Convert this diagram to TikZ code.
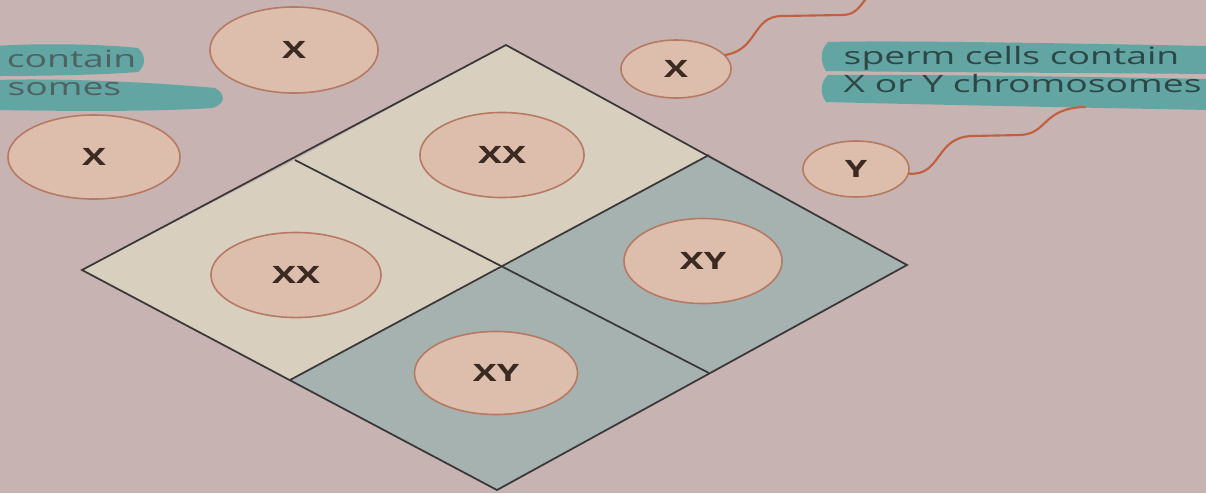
\documentclass[tikz,border=0pt]{standalone}
\usepackage{fontspec}
\usepackage{graphicx}
\setmainfont{Open Sans}
\usetikzlibrary{shapes.geometric}
\definecolor{bg}{HTML}{C7B3B1}
\definecolor{cream}{HTML}{D8CFBF}
\definecolor{bluegrey}{HTML}{A6B2B0}
\definecolor{circfill}{HTML}{DDBEAC}
\definecolor{circedge}{HTML}{B47A63}
\definecolor{labtext}{HTML}{3A2A22}
\definecolor{strip}{HTML}{63A5A2}
\definecolor{striptext}{HTML}{2C4746}
\definecolor{wire}{HTML}{C0603F}
\definecolor{gridline}{HTML}{3A3838}
\tikzset{
  cellcirc/.style={ellipse, draw=circedge, fill=circfill, line width=0.45pt,
    inner sep=0pt, text=labtext, font=\bfseries\fontsize{6.8}{7}\selectfont},
  striplabel/.style={inner sep=0pt, text=striptext, font=\fontsize{6.8}{7}\selectfont},
  gridstroke/.style={draw=gridline, line width=0.5pt, line join=miter},
  wirestroke/.style={draw=wire, line width=0.6pt, line cap=round},
}
\newcommand{\wx}[1]{\scalebox{1.5}[1]{#1}}
\newcommand{\ws}[1]{\scalebox{1.56}[1]{#1}}
\begin{document}
\begin{tikzpicture}[x=0.01cm,y=-0.01cm]
\useasboundingbox (0,0) rectangle (1206,493);
\fill[bg] (0,0) rectangle (1206,493);
\clip (0,0) rectangle (1206,493);

% highlighter strips
\fill[strip] (-5,46) .. controls (40,43) and (100,44) .. (138,48)
  .. controls (146,55) and (146,66) .. (138,72) .. controls (100,75) and (40,76) .. (-5,76) -- cycle;
\fill[strip] (-5,80) .. controls (60,78) and (150,82) .. (215,88)
  .. controls (226,94) and (226,104) .. (212,108) .. controls (150,112) and (60,111) .. (-5,110) -- cycle;
\fill[strip] (828,42) .. controls (900,40) and (1100,44) .. (1210,46)
  -- (1210,74) .. controls (1100,73) and (900,72) .. (826,71) .. controls (820,62) and (820,50) .. (828,42) -- cycle;
\fill[strip] (828,75) .. controls (900,74) and (1100,77) .. (1210,79)
  -- (1210,110) .. controls (1100,108) and (900,104) .. (826,102) .. controls (820,94) and (820,82) .. (828,75) -- cycle;

% strip texts
\node[striplabel, anchor=base west] (s1) at (843,64) {\ws{sperm cells contain}};
\node[striplabel, anchor=base west] (s2) at (843,92) {\ws{X or Y chromosomes}};
\node[striplabel, anchor=base east, text=striptext!85!white] (e1) at (137,67) {\ws{contain}};
\node[striplabel, anchor=base east, text=striptext!85!white] (e2) at (122,95) {\ws{somes}};

% Punnett diamond
\coordinate (T) at (506,45);
\coordinate (R) at (907,265);
\coordinate (B) at (497,490);
\coordinate (L) at (82,270);
\coordinate (C) at (503,267);
\coordinate (TL) at (295,160);
\coordinate (TR) at (709,155);
\coordinate (BR) at (709,373);
\coordinate (BL) at (290,380);
\fill[cream] (T) -- (TR) -- (C) -- (TL) -- cycle;
\fill[cream] (TL) -- (C) -- (BL) -- (L) -- cycle;
\fill[bluegrey] (TR) -- (R) -- (BR) -- (C) -- cycle;
\fill[bluegrey] (C) -- (BR) -- (B) -- (BL) -- cycle;
\draw[gridstroke] (T) -- (R) -- (B) -- (L) -- cycle;
\draw[gridstroke] (TL) -- (BR);
\draw[gridstroke] (TR) -- (BL);

% cells
\node[cellcirc, minimum width=1.68cm, minimum height=0.86cm] (eggA) at (294,50) {\wx{X}};
\node[cellcirc, minimum width=1.72cm, minimum height=0.84cm] (eggB) at (94,157) {\wx{X}};
\node[cellcirc, minimum width=1.10cm, minimum height=0.58cm] (spX) at (676,69) {\wx{X}};
\node[cellcirc, minimum width=1.06cm, minimum height=0.56cm] (spY) at (856,169) {\wx{Y}};
\node[cellcirc, minimum width=1.64cm, minimum height=0.85cm] (c1) at (502,155) {\wx{XX}};
\node[cellcirc, minimum width=1.70cm, minimum height=0.85cm] (c2) at (296,275) {\wx{XX}};
\node[cellcirc, minimum width=1.58cm, minimum height=0.85cm] (c3) at (703,261) {\wx{XY}};
\node[cellcirc, minimum width=1.63cm, minimum height=0.83cm] (c4) at (496,373) {\wx{XY}};

% connectors
\coordinate (xend) at (868,-4);
\coordinate (yend) at (1085,107);
\draw[wirestroke] (spX.16) .. controls (758,50) and (752,16) .. (782,16)
  -- (842,15) .. controls (856,15) and (860,6) .. (xend);
\draw[wirestroke] (spY.-5) .. controls (942,176) and (935,137) .. (972,136)
  -- (1020,135) .. controls (1048,134) and (1042,108) .. (yend);
\end{tikzpicture}
\end{document}
